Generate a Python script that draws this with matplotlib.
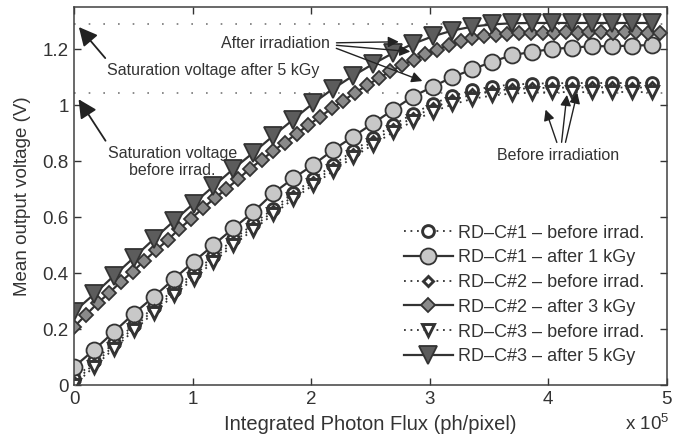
import numpy as np
import matplotlib.pyplot as plt

plt.rcParams['font.family'] = ['Liberation Sans', 'DejaVu Sans']
plt.rcParams['mathtext.default'] = 'regular'

# integrated photon flux (x 1e5 ph/pixel)
flux = [0.0, 0.168, 0.336, 0.504, 0.672, 0.84, 1.008, 1.176, 1.344, 1.512,
        1.68, 1.848, 2.016, 2.184, 2.352, 2.52, 2.688, 2.856, 3.024, 3.192,
        3.36, 3.528, 3.696, 3.864, 4.032, 4.2, 4.368, 4.536, 4.704, 4.872]
flux_c2 = [0.0, 0.099, 0.198, 0.296, 0.395, 0.494, 0.593, 0.692, 0.79, 0.889,
           0.988, 1.087, 1.186, 1.284, 1.383, 1.482, 1.581, 1.68, 1.778, 1.877,
           1.976, 2.075, 2.174, 2.272, 2.371, 2.47, 2.569, 2.668, 2.766, 2.865,
           2.964, 3.063, 3.162, 3.26, 3.359, 3.458, 3.557, 3.656, 3.754, 3.853,
           3.952, 4.051, 4.15, 4.248, 4.347, 4.446, 4.545, 4.644, 4.742, 4.841,
           4.94]

# mean output voltage (V)
c1_before = [0.02, 0.085, 0.15, 0.215, 0.278, 0.34, 0.40, 0.46, 0.52, 0.575,
             0.63, 0.685, 0.735, 0.786, 0.836, 0.882, 0.928, 0.968, 1.004, 1.032,
             1.053, 1.066, 1.073, 1.076, 1.078, 1.078, 1.079, 1.078, 1.079, 1.079]
c1_after = [0.065, 0.125, 0.19, 0.255, 0.315, 0.378, 0.44, 0.50, 0.56, 0.618,
            0.685, 0.738, 0.786, 0.839, 0.887, 0.934, 0.982, 1.03, 1.065, 1.10,
            1.127, 1.155, 1.178, 1.19, 1.20, 1.205, 1.21, 1.21, 1.212, 1.214]
c2_before = [0.01, 0.075, 0.14, 0.205, 0.268, 0.33, 0.39, 0.45, 0.51, 0.565,
             0.62, 0.675, 0.725, 0.775, 0.825, 0.87, 0.915, 0.955, 0.99, 1.017,
             1.038, 1.05, 1.057, 1.06, 1.062, 1.062, 1.063, 1.063, 1.062, 1.063]
c2_after = [0.208, 0.25, 0.292, 0.329, 0.369, 0.405, 0.444, 0.482, 0.518, 0.558,
            0.594, 0.632, 0.667, 0.70, 0.735, 0.772, 0.804, 0.836, 0.866, 0.898,
            0.928, 0.958, 0.988, 1.016, 1.044, 1.07, 1.096, 1.12, 1.142, 1.162,
            1.182, 1.198, 1.214, 1.228, 1.238, 1.246, 1.251, 1.254, 1.256, 1.257,
            1.258, 1.258, 1.259, 1.258, 1.259, 1.259, 1.258, 1.259, 1.259, 1.258,
            1.258]
c3_before = [0.0, 0.065, 0.13, 0.195, 0.258, 0.32, 0.38, 0.44, 0.50, 0.555,
             0.61, 0.664, 0.714, 0.764, 0.813, 0.858, 0.902, 0.942, 0.976, 1.002,
             1.022, 1.034, 1.041, 1.044, 1.046, 1.046, 1.046, 1.047, 1.046, 1.046]
c3_after = [0.262, 0.324, 0.39, 0.455, 0.521, 0.585, 0.648, 0.71, 0.772, 0.83,
            0.89, 0.948, 1.006, 1.058, 1.104, 1.146, 1.185, 1.218, 1.245, 1.266,
            1.28, 1.288, 1.292, 1.293, 1.293, 1.293, 1.293, 1.293, 1.293, 1.293]

sat_after = 1.29
sat_before = 1.044

labels = ['RD\u2013C#1 \u2013 before irrad.', 'RD\u2013C#1 \u2013 after 1 kGy',
          'RD\u2013C#2 \u2013 before irrad.', 'RD\u2013C#2 \u2013 after 3 kGy',
          'RD\u2013C#3 \u2013 before irrad.', 'RD\u2013C#3 \u2013 after 5 kGy']

edge = '#333333'
txt = '#333333'

fig = plt.figure(figsize=(6.86, 4.38), dpi=100)
ax = fig.add_axes([0.108, 0.121, 0.864, 0.863])

ax.plot([0, 5], [sat_after, sat_after], color='#777777', lw=1.2,
        linestyle=(0, (1, 7.8)), zorder=1)
ax.plot([0, 5], [sat_before, sat_before], color='#777777', lw=1.2,
        linestyle=(0, (1, 7.8)), zorder=1)

before_kw = dict(color=edge, lw=1.3, linestyle=(0, (1, 2.6)), markerfacecolor='white',
                 markeredgecolor=edge, markeredgewidth=2.1)
after_kw = dict(color=edge, lw=1.6, linestyle='-', markeredgecolor=edge,
                markeredgewidth=1.3)

ax.plot(flux, c1_before, marker='o', markersize=8.5, label=labels[0], **before_kw)
ax.plot(flux, c1_after, marker='o', markersize=11.5, markerfacecolor='#c8c8c8',
        label=labels[1], **after_kw)
ax.plot(flux, c2_before, marker='D', markersize=5.5, label=labels[2], **before_kw)
ax.plot(flux_c2, c2_after, marker='D', markersize=7, markerfacecolor='#8a8a8a',
        label=labels[3], **after_kw)
ax.plot(flux, c3_before, marker='v', markersize=9, label=labels[4], **before_kw)
ax.plot(flux, c3_after, marker='v', markersize=13, markerfacecolor='#5c5c5c',
        label=labels[5], **after_kw)

ax.set_xlim(0, 5)
ax.set_ylim(0, 1.35)
ax.set_xticks([0, 1, 2, 3, 4, 5])
ax.set_yticks([0, 0.2, 0.4, 0.6, 0.8, 1.0, 1.2])
ax.set_yticklabels(['0', '0.2', '0.4', '0.6', '0.8', '1', '1.2'])
ax.tick_params(direction='in', length=5, width=1, top=True, right=True,
               labelsize=13.5, colors=txt, pad=4)
for s in ax.spines.values():
    s.set_color('#404040')
    s.set_linewidth(1.1)

ax.set_xlabel('Integrated Photon Flux (ph/pixel)', fontsize=14.5, color=txt, labelpad=5)
ax.set_ylabel('Mean output voltage (V)', fontsize=13.5, color=txt, labelpad=8)
fig.text(0.975, 0.008, 'x 10$^{5}$', ha='right', va='bottom', fontsize=13.5, color=txt)

leg = ax.legend(loc='lower left', bbox_to_anchor=(0.556, 0.052), frameon=False,
                fontsize=13, handlelength=2.75, handletextpad=0.28,
                labelspacing=0.43, borderaxespad=0, borderpad=0)
for t in leg.get_texts():
    t.set_color(txt)

# saturation level annotations
big_arrow = dict(arrowstyle='-|>', color='#222222', lw=1.3, mutation_scale=28)
ax.annotate('', xy=(0.025, 1.286), xytext=(0.278, 1.16), arrowprops=big_arrow)
ax.text(0.278, 1.125, 'Saturation voltage after 5 kGy', fontsize=11.5, color=txt,
        ha='left', va='center')
ax.annotate('', xy=(0.025, 1.029), xytext=(0.278, 0.864), arrowprops=big_arrow)
ax.text(0.83, 0.796, 'Saturation voltage\nbefore irrad.', fontsize=11.5, color=txt,
        ha='center', va='center', linespacing=1.15)

small_arrow = dict(arrowstyle='-|>', color='#222222', lw=1.0, mutation_scale=16)
ax.text(2.16, 1.221, 'After irradiation', fontsize=11.5, color=txt,
        ha='right', va='center')
for tail, tip in [((2.19, 1.222), (2.763, 1.226)),
                  ((2.19, 1.214), (2.86, 1.19)),
                  ((2.19, 1.206), (2.96, 1.082))]:
    ax.annotate('', xy=tip, xytext=tail, arrowprops=small_arrow)

ax.text(4.08, 0.821, 'Before irradiation', fontsize=11.5, color=txt,
        ha='center', va='center')
for tail, tip in [((4.08, 0.857), (3.97, 0.993)),
                  ((4.11, 0.857), (4.16, 1.046)),
                  ((4.14, 0.857), (4.25, 1.054))]:
    ax.annotate('', xy=tip, xytext=tail, arrowprops=small_arrow)

fig.savefig('out.png', dpi=100)
